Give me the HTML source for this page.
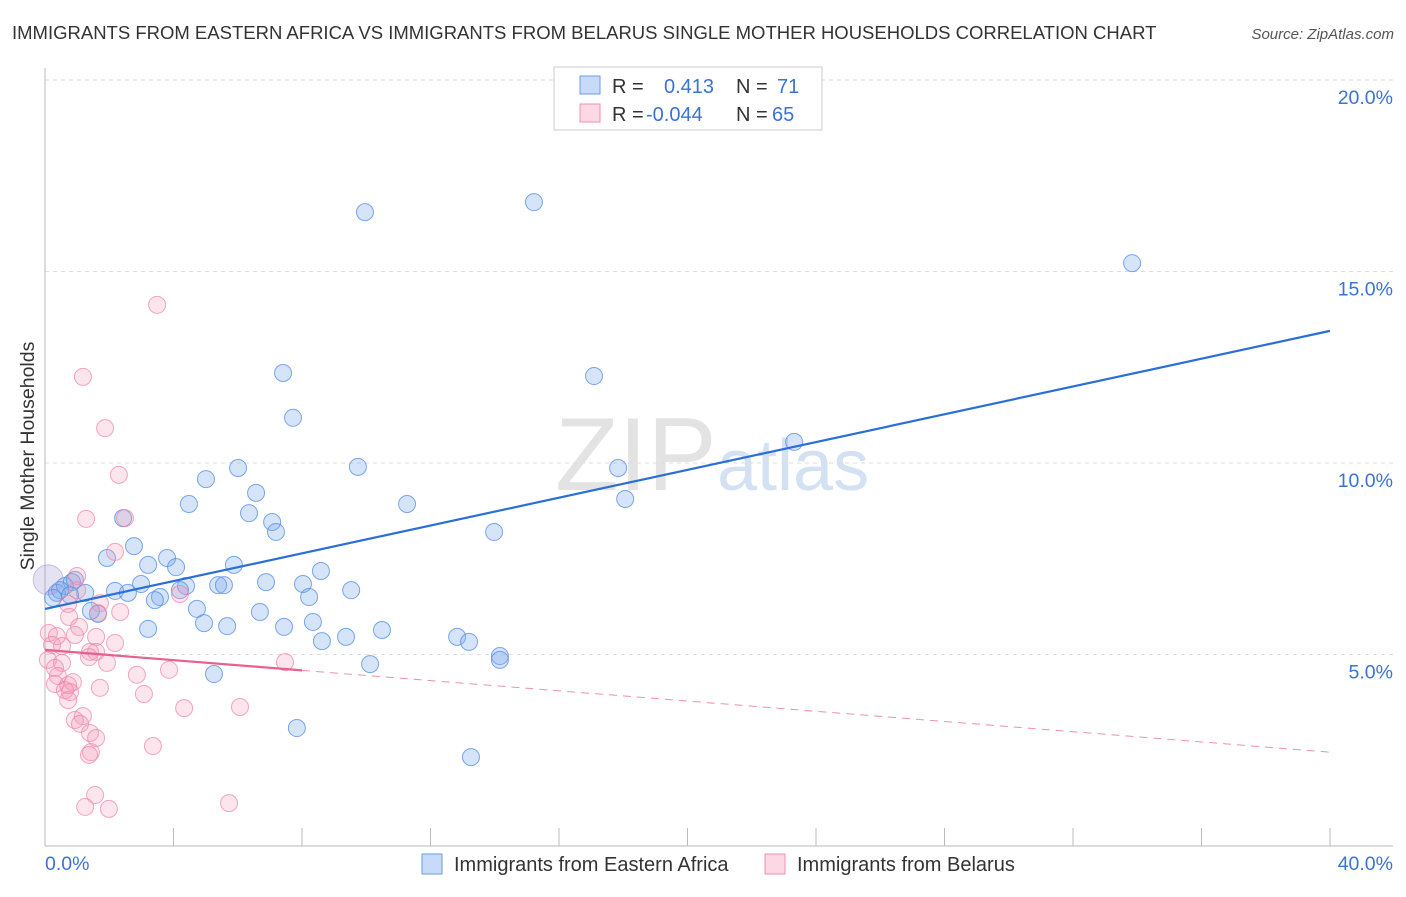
<!DOCTYPE html>
<html><head><meta charset="utf-8"><style>
body{margin:0;background:#fff;font-family:"Liberation Sans",sans-serif}
svg text{font-family:"Liberation Sans",sans-serif}
</style></head><body>
<svg id="chart" width="1406" height="892" xmlns="http://www.w3.org/2000/svg">
<text x="12" y="39" font-size="18.5" fill="#333">IMMIGRANTS FROM EASTERN AFRICA VS IMMIGRANTS FROM BELARUS SINGLE MOTHER HOUSEHOLDS CORRELATION CHART</text>
<text x="1394" y="39" font-size="15" fill="#555" text-anchor="end" font-style="italic">Source: ZipAtlas.com</text>
<text transform="translate(34,456) rotate(-90)" font-size="19.5" fill="#333" text-anchor="middle">Single Mother Households</text>
<text x="555" y="490" font-size="104" fill="#ddd" font-family="Liberation Serif" opacity="0.8">ZIP</text>
<text x="717" y="490" font-size="72" fill="#c9daf0" opacity="0.8">atlas</text>
<g id="grid"></g><g id="axes"></g><g id="pts"></g><g id="trends"></g>
<g>
<rect x="554" y="67" width="268" height="63" fill="#fff" stroke="#ccc"/>
<rect x="580" y="76" width="20" height="18" fill="rgba(100,149,237,0.35)" stroke="#6a9ee0"/>
<rect x="580" y="104" width="20" height="18" fill="rgba(244,143,177,0.35)" stroke="#f08fb0"/>
<text x="612" y="93" font-size="20" fill="#333">R =</text><text x="664" y="93" font-size="20" fill="#3b73d1">0.413</text>
<text x="736" y="93" font-size="20" fill="#333">N =</text><text x="777" y="93" font-size="20" fill="#3b73d1">71</text>
<text x="612" y="121" font-size="20" fill="#333">R =</text><text x="646" y="121" font-size="20" fill="#3b73d1">-0.044</text>
<text x="736" y="121" font-size="20" fill="#333">N =</text><text x="772" y="121" font-size="20" fill="#3b73d1">65</text>
</g>
<g>
<rect x="422" y="854" width="20" height="20" fill="rgba(100,149,237,0.35)" stroke="#6a9ee0"/>
<text x="454" y="871" font-size="20" fill="#333">Immigrants from Eastern Africa</text>
<rect x="765" y="854" width="20" height="20" fill="rgba(244,143,177,0.35)" stroke="#f08fb0"/>
<text x="797" y="871" font-size="20" fill="#333">Immigrants from Belarus</text>
</g>
</svg>
<script>
const blueX=[9.96,15.22,33.84,7.41,17.09,7.72,23.32,6.01,9.74,17.84,5.01,6.57,4.48,11.27,18.06,6.35,7.07,7.19,2.43,13.98,2.77,1.93,3.80,3.21,4.08,5.88,8.59,6.88,8.03,2.99,4.39,5.39,5.57,9.53,2.18,2.58,3.58,3.42,4.20,8.22,4.73,6.69,1.65,1.43,4.95,5.67,8.34,7.44,3.21,8.62,9.37,10.49,12.83,13.20,14.16,14.16,10.12,5.26,7.84,13.26,0.37,0.62,0.84,0.93,0.47,1.25,0.25,0.78];
const blueY=[16.55,16.81,15.22,12.35,12.27,11.18,10.55,9.87,9.90,9.87,9.58,9.22,8.93,8.93,9.06,8.69,8.46,8.20,8.56,8.20,7.83,7.52,7.52,7.34,7.28,7.34,7.18,6.89,6.84,6.84,6.79,6.81,6.81,6.68,6.66,6.61,6.50,6.42,6.68,6.50,6.19,6.11,6.06,6.14,5.82,5.74,5.85,5.72,5.67,5.35,5.46,5.64,5.46,5.33,4.96,4.86,4.75,4.49,3.08,2.32,6.61,6.79,6.89,6.95,6.68,6.61,6.48,6.55];
const pinkX=[3.49,1.18,1.87,2.30,1.28,2.49,2.18,1.00,1.00,1.71,0.72,2.34,4.20,1.65,0.75,1.06,1.59,0.93,0.12,0.37,0.53,2.18,1.40,1.59,1.37,0.09,0.53,1.93,0.31,3.86,7.47,2.86,0.40,0.31,0.72,0.87,1.71,0.62,0.78,3.08,0.72,4.33,6.07,1.18,0.93,1.09,1.40,1.59,3.36,1.43,1.37,1.56,1.25,1.99,5.73,0.22];
const pinkY=[14.13,12.25,10.91,9.69,8.54,8.56,7.68,7.05,6.68,6.34,6.32,6.11,6.58,6.08,5.98,5.72,5.46,5.51,5.56,5.48,5.22,5.30,5.07,5.07,4.93,4.86,4.78,4.78,4.65,4.60,4.80,4.47,4.44,4.23,4.20,4.28,4.13,4.07,4.02,3.97,3.81,3.60,3.63,3.39,3.29,3.19,2.95,2.82,2.61,2.45,2.38,1.33,1.02,0.97,1.12,5.25];
const blueTrend=[6.19,13.45];
const pinkTrend=[5.12,2.45];
const yTicks=[5,10,15,20];
const xTickVals=[4,8,12,16,20,24,28,32,36,40];
const NS="http://www.w3.org/2000/svg";
const X=v=>45+v/40*1285, Y=v=>846-v/20*766;
function mk(t,a,p){const e=document.createElementNS(NS,t);for(const k in a)e.setAttribute(k,a[k]);p.appendChild(e);return e;}
const grid=document.getElementById('grid'),axes=document.getElementById('axes'),pts=document.getElementById('pts'),tr=document.getElementById('trends');
yTicks.forEach(v=>{
 const l=mk('line',{x1:45,x2:1393,y1:Y(v),y2:Y(v),stroke:'#ddd','stroke-dasharray':'4,4'},grid);
 
 
 const t=mk('text',{x:1393,y:Y(v)+24,'font-size':19.5,fill:'#3b73d1','text-anchor':'end'},grid);t.textContent=v.toFixed(1)+'%';
 
 
});
const ya=mk('line',{x1:45,x2:45,y1:68,y2:846,stroke:'#bbb'},axes);


const xa=mk('line',{x1:45,x2:1393,y1:846,y2:846,stroke:'#bbb'},axes);


xTickVals.forEach(v=>{
 const l=mk('line',{x1:X(v),x2:X(v),y1:828,y2:846,stroke:'#bbb'},axes);
 
 
});
const t0=mk('text',{x:45,y:870,'font-size':19.5,fill:'#3b73d1'},axes);t0.textContent='0.0%';


const t1=mk('text',{x:1393,y:870,'font-size':19.5,fill:'#3b73d1','text-anchor':'end'},axes);t1.textContent='40.0%';


blueX.forEach((x,i)=>{
 const c=mk('circle',{cx:X(x),cy:Y(blueY[i]),r:8.5,fill:'rgba(120,165,235,0.3)',stroke:'rgba(80,140,225,0.75)','stroke-width':1},pts);
 
 
});
pinkX.forEach((x,i)=>{
 const c=mk('circle',{cx:X(x),cy:Y(pinkY[i]),r:8.5,fill:'rgba(244,150,180,0.25)',stroke:'rgba(238,130,170,0.7)','stroke-width':1},pts);
 
 
});
const big=mk('circle',{cx:X(0.1),cy:Y(6.95),r:15,fill:'rgba(150,140,210,0.25)',stroke:'rgba(150,160,220,0.6)'},pts);


const bl=mk('line',{x1:X(0),y1:Y(blueTrend[0]),x2:X(40),y2:Y(blueTrend[1]),stroke:'#2a6fd6','stroke-width':2.2},tr);


const pm=v=>pinkTrend[0]+(pinkTrend[1]-pinkTrend[0])*v/40;
const ps=mk('line',{x1:X(0),y1:Y(pinkTrend[0]),x2:X(8),y2:Y(pm(8)),stroke:'#e8608c','stroke-width':2.2},tr);


const pd=mk('line',{x1:X(8),y1:Y(pm(8)),x2:X(40),y2:Y(pinkTrend[1]),stroke:'#e8608c','stroke-width':1,'stroke-dasharray':'8,6',opacity:0.7},tr);


</script>
</body></html>
